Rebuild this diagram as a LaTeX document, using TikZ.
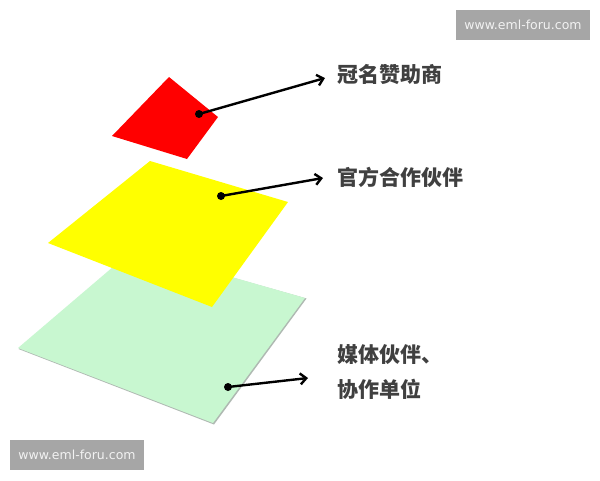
\documentclass[tikz,border=0pt]{standalone}
\usepackage{fontspec}
\newfontfamily\cjk{Noto Sans CJK SC}
\newfontfamily\wmfont{DejaVu Sans}
\usetikzlibrary{arrows.meta}
\definecolor{mint}{RGB}{200,247,208}
\definecolor{mintedge}{RGB}{175,185,178}
\definecolor{layeryellow}{RGB}{255,255,0}
\definecolor{layerred}{RGB}{255,0,0}
\definecolor{wmgray}{RGB}{166,166,166}
\definecolor{labelgray}{RGB}{64,64,64}
\tikzset{
  pointer/.style={line width=2.4pt,-{Straight Barb[length=6pt,width=11pt,line width=2.4pt]},line cap=round},
  dotmark/.style={circle,fill=black,inner sep=0pt,minimum size=8pt},
  label/.style={anchor=west,inner sep=0pt,font=\cjk\bfseries\fontsize{21}{35}\selectfont,text=labelgray,align=left},
  watermark/.style={fill=wmgray,text=white!95!black,font=\wmfont\fontsize{12.5}{14}\selectfont,inner sep=0pt,minimum width=134pt,minimum height=30pt}
}
\begin{document}
\begin{tikzpicture}[x=1pt,y=-1pt]
\useasboundingbox[fill=white] (0,0) rectangle (600,480);
% green layer with slight shadow
\fill[mintedge] (135,250) -- (306.5,298.5) -- (214,424.5) -- (18.5,349) -- cycle;
\fill[mint] (134,249) -- (305,298) -- (213,423) -- (18,348) -- cycle;
% yellow layer
\fill[layeryellow] (150,161) -- (288,202) -- (212,307) -- (48,243) -- cycle;
% red layer
\fill[layerred] (169,77) -- (218,117) -- (187,159) -- (112,136) -- cycle;
% dots
\node[dotmark] (d1) at (199,114) {};
\node[dotmark] (d2) at (221,196) {};
\node[dotmark] (d3) at (228,387) {};
% arrow ends
\coordinate (e1) at (325,78);
\coordinate (e2) at (323,178);
\coordinate (e3) at (308,378);
\draw[pointer] (d1.center) -- (e1);
\draw[pointer] (d2.center) -- (e2);
\draw[pointer] (d3.center) -- (e3);
% labels
\node[label] (t1) at (337,75) {冠名赞助商};
\node[label] (t2) at (337,177) {官方合作伙伴};
\node[label] (t3) at (337,372) {媒体伙伴、\\协作单位};
% watermarks
\node[watermark] (w1) at (523,25) {www.eml-foru.com};
\node[watermark] (w2) at (77,455) {www.eml-foru.com};
\end{tikzpicture}
\end{document}
